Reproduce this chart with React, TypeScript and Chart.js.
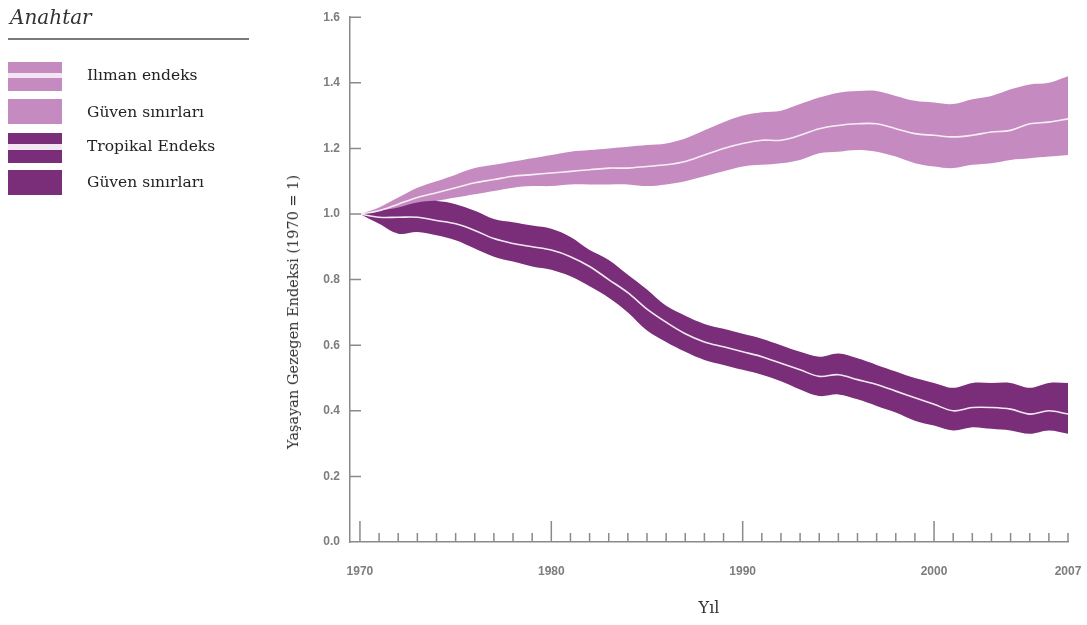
import React, { useEffect, useRef } from "react";
import { Chart, registerables } from "chart.js";

Chart.register(...registerables);

const years = [
  1970, 1971, 1972, 1973, 1974, 1975, 1976, 1977, 1978, 1979,
  1980, 1981, 1982, 1983, 1984, 1985, 1986, 1987, 1988, 1989,
  1990, 1991, 1992, 1993, 1994, 1995, 1996, 1997, 1998, 1999,
  2000, 2001, 2002, 2003, 2004, 2005, 2006, 2007,
];

const temperateIndex = [
  1.0, 1.01, 1.03, 1.05, 1.065, 1.08, 1.095, 1.105, 1.115, 1.12,
  1.125, 1.13, 1.135, 1.14, 1.14, 1.145, 1.15, 1.16, 1.18, 1.2,
  1.215, 1.225, 1.225, 1.24, 1.26, 1.27, 1.275, 1.275, 1.26, 1.245,
  1.24, 1.235, 1.24, 1.25, 1.255, 1.275, 1.28, 1.29,
];
const temperateUpper = [
  1.0, 1.02, 1.05, 1.08, 1.1, 1.12, 1.14, 1.15, 1.16, 1.17,
  1.18, 1.19, 1.195, 1.2, 1.205, 1.21, 1.215, 1.23, 1.255, 1.28,
  1.3, 1.31, 1.315, 1.335, 1.355, 1.37, 1.375, 1.375, 1.36, 1.345,
  1.34, 1.335, 1.35, 1.36, 1.38, 1.395, 1.4, 1.42,
];
const temperateLower = [
  1.0, 1.005, 1.015, 1.03, 1.04, 1.05, 1.06, 1.07, 1.08, 1.085,
  1.085, 1.09, 1.09, 1.09, 1.09, 1.085, 1.09, 1.1, 1.115, 1.13,
  1.145, 1.15, 1.155, 1.165, 1.185, 1.19, 1.195, 1.19, 1.175, 1.155,
  1.145, 1.14, 1.15, 1.155, 1.165, 1.17, 1.175, 1.18,
];
const tropicalIndex = [
  1.0, 0.99, 0.99, 0.99, 0.98, 0.97, 0.95, 0.925, 0.91, 0.9,
  0.89, 0.87, 0.84, 0.8, 0.76, 0.71, 0.67, 0.635, 0.61, 0.595,
  0.58, 0.565, 0.545, 0.525, 0.505, 0.51, 0.495, 0.48, 0.46, 0.44,
  0.42, 0.4, 0.41, 0.41, 0.405, 0.39, 0.4, 0.39,
];
const tropicalUpper = [
  1.0, 1.01, 1.02, 1.035, 1.04, 1.03, 1.01, 0.985, 0.975, 0.965,
  0.955, 0.93, 0.89, 0.86, 0.815, 0.77, 0.72, 0.69, 0.665, 0.65,
  0.635, 0.62, 0.6, 0.58, 0.565, 0.575, 0.56, 0.54, 0.52, 0.5,
  0.485, 0.47, 0.485, 0.485, 0.485, 0.47, 0.485, 0.485,
];
const tropicalLower = [
  1.0, 0.97, 0.94, 0.945, 0.935, 0.92, 0.895, 0.87, 0.855, 0.84,
  0.83, 0.81, 0.78, 0.745, 0.7, 0.645, 0.61, 0.58, 0.555, 0.54,
  0.525, 0.51, 0.49, 0.465, 0.445, 0.45, 0.435, 0.415, 0.395, 0.37,
  0.355, 0.34, 0.35, 0.345, 0.34, 0.33, 0.34, 0.33,
];

const xTickLabels = [1970, 1980, 1990, 2000, 2007];
const majorTickYears = [1970, 1980, 1990, 2000];
const yTickValues = [0.2, 0.4, 0.6, 0.8, 1.0, 1.2, 1.4, 1.6];

const legendTitle = "Anahtar";
const legendLabels = ["Ilıman endeks", "Güven sınırları", "Tropikal Endeks", "Güven sınırları"];
const yTitle = "Yaşayan Gezegen Endeksi (1970 = 1)";
const xTitle = "Yıl";

const LIGHT = "#c58bc0";
const DARK = "#7a2d78";
const AXIS = "#8a8a8a";

const pts = (vals: number[]) => years.map((x, i) => ({ x, y: vals[i] }));

const innerTicks = {
  id: "innerTicks",
  afterDatasetsDraw(chart: any) {
    const { ctx, chartArea, scales } = chart;
    const xs = scales.x;
    const ys = scales.y;
    ctx.save();
    ctx.strokeStyle = AXIS;
    ctx.lineWidth = 1.5;
    ctx.beginPath();
    yTickValues.forEach((v) => {
      const py = ys.getPixelForValue(v);
      ctx.moveTo(chartArea.left, py);
      ctx.lineTo(chartArea.left + 11, py);
    });
    years.forEach((yr) => {
      const px = xs.getPixelForValue(yr);
      const len = majorTickYears.includes(yr) ? 21 : 9;
      ctx.moveTo(px, chartArea.bottom);
      ctx.lineTo(px, chartArea.bottom - len);
    });
    ctx.stroke();
    ctx.restore();
  },
};

function Swatch({ top, height, color, split }: { top: number; height: number; color: string; split?: [number, number] }) {
  return (
    <div style={{ position: "absolute", left: 8, top, width: 54, height, background: color }}>
      {split && (
        <div style={{ position: "absolute", left: 0, top: split[0], width: 54, height: split[1], background: "#f3e6f2" }} />
      )}
    </div>
  );
}

export default function App() {
  const ref = useRef<HTMLCanvasElement | null>(null);

  useEffect(() => {
    if (!ref.current) return;
    const band = (data: number[], color: string, order: number, fill: any) => ({
      data: pts(data),
      borderWidth: 0,
      borderColor: color,
      backgroundColor: color,
      pointRadius: 0,
      tension: 0.35,
      fill,
      order,
    });
    const chart = new Chart(ref.current, {
      type: "line",
      data: {
        datasets: [
          band(temperateUpper, LIGHT, 3, "+1"),
          band(temperateLower, LIGHT, 3, false),
          band(tropicalUpper, DARK, 2, "+1"),
          band(tropicalLower, DARK, 2, false),
          {
            data: pts(tropicalIndex),
            borderColor: "#f4e9f3",
            borderWidth: 1.6,
            pointRadius: 0,
            tension: 0.35,
            fill: false,
            order: 1,
          },
          {
            data: pts(temperateIndex),
            borderColor: "#f6eef5",
            borderWidth: 1.6,
            pointRadius: 0,
            tension: 0.35,
            fill: false,
            order: 0,
          },
        ],
      },
      options: {
        responsive: false,
        animation: false,
        layout: { padding: { left: 0, right: 19, top: 13, bottom: 0 } },
        plugins: { legend: { display: false }, tooltip: { enabled: false } },
        scales: {
          x: {
            type: "linear",
            min: 1969.48,
            max: 2007,
            grid: { display: false, drawTicks: false },
            border: { display: true, color: AXIS, width: 1.5 },
            afterBuildTicks: (scale: any) => {
              scale.ticks = xTickLabels.map((v) => ({ value: v }));
            },
            afterFit: (scale: any) => {
              scale.height = 83;
              scale.paddingLeft = 0;
              scale.paddingRight = 0;
            },
            ticks: {
              autoSkip: false,
              maxRotation: 0,
              padding: 22,
              color: "#7d7d7d",
              font: { family: "Liberation Sans", size: 12, weight: "bold" },
              callback: (v: any) => String(v),
            },
          },
          y: {
            min: 0,
            max: 1.6,
            grid: { display: false, drawTicks: false },
            border: { display: true, color: AXIS, width: 1.5 },
            afterFit: (scale: any) => {
              scale.width = 350;
            },
            ticks: {
              stepSize: 0.2,
              padding: 10,
              color: "#7d7d7d",
              font: { family: "Liberation Sans", size: 12, weight: "bold" },
              callback: (v: any) => Number(v).toFixed(1),
            },
          },
        },
      },
      plugins: [innerTicks],
    } as any);
    return () => chart.destroy();
  }, []);

  const serif = '"DejaVu Serif", serif';
  const textStyle: React.CSSProperties = {
    position: "absolute",
    left: 87,
    font: `15.5px ${serif}`,
    color: "#222",
    whiteSpace: "nowrap",
    lineHeight: "20px",
  };

  return (
    <div style={{ position: "fixed", left: 0, top: 0, width: 1087, height: 625, background: "#fff", overflow: "hidden" }}>
      <canvas ref={ref} width={1087} height={625} style={{ position: "absolute", left: 0, top: 0 }} />
      <div style={{ position: "absolute", left: 10, top: 7, font: `italic 20px ${serif}`, lineHeight: "20px", color: "#333", whiteSpace: "nowrap" }}>
        {legendTitle}
      </div>
      <div style={{ position: "absolute", left: 8, top: 38, width: 241, height: 2, background: "#7a7a7a" }} />
      <Swatch top={62} height={29} color={LIGHT} split={[11, 5]} />
      <Swatch top={99} height={25} color={LIGHT} />
      <Swatch top={133} height={30} color={DARK} split={[11, 6]} />
      <Swatch top={170} height={25} color={DARK} />
      <div style={{ ...textStyle, top: 65 }}>{legendLabels[0]}</div>
      <div style={{ ...textStyle, top: 102 }}>{legendLabels[1]}</div>
      <div style={{ ...textStyle, top: 136 }}>{legendLabels[2]}</div>
      <div style={{ ...textStyle, top: 172 }}>{legendLabels[3]}</div>
      <div
        style={{
          position: "absolute",
          left: 293,
          top: 312,
          transform: "translate(-50%, -50%) rotate(-90deg)",
          font: `14.5px ${serif}`,
          color: "#333",
          whiteSpace: "nowrap",
        }}
      >
        {yTitle}
      </div>
      <div
        style={{
          position: "absolute",
          left: 709,
          top: 607,
          transform: "translate(-50%, -50%)",
          font: `16px ${serif}`,
          color: "#333",
          whiteSpace: "nowrap",
        }}
      >
        {xTitle}
      </div>
    </div>
  );
}
